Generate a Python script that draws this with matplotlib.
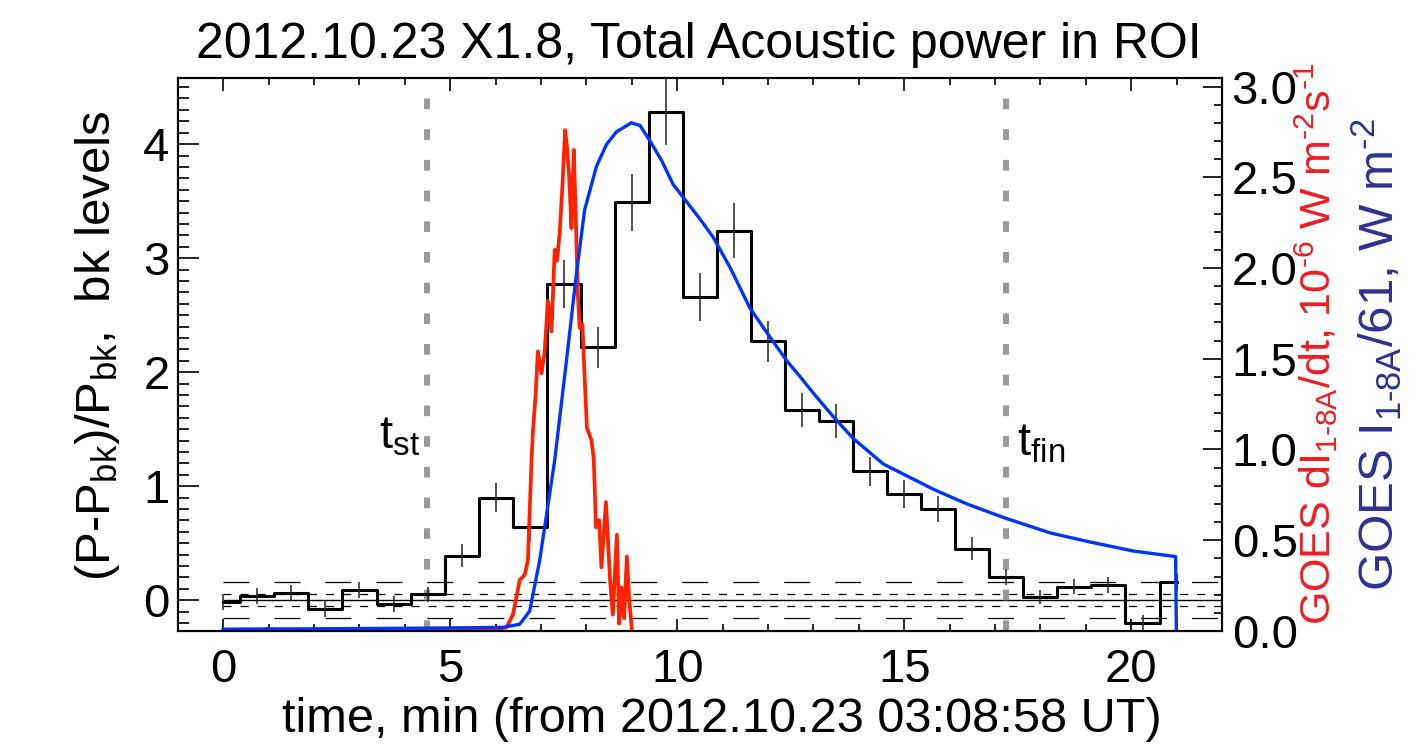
import numpy as np
import matplotlib.pyplot as plt
from matplotlib.ticker import MultipleLocator, FormatStrFormatter

plt.rcParams['font.family'] = 'Liberation Sans'
plt.rcParams['mathtext.fontset'] = 'custom'
plt.rcParams['mathtext.rm'] = 'Liberation Sans'
plt.rcParams['mathtext.it'] = 'Liberation Sans'
plt.rcParams['lines.scale_dashes'] = False

# acoustic power in ROI, bins of 0.75 min
t_pow = np.arange(29) * 0.75
p_pow = [-0.015, 0.04, 0.065, -0.08, 0.09, -0.03, 0.05, 0.39, 0.90, 0.64,
         2.77, 2.22, 3.49, 4.28, 2.66, 3.24, 2.27, 1.67, 1.57, 1.13,
         0.93, 0.80, 0.45, 0.20, 0.03, 0.12, 0.13, -0.20, 0.16]
e_pow = [0.07, 0.07, 0.07, 0.07, 0.07, 0.07, 0.07, 0.10, 0.13, 0.12,
         0.21, 0.18, 0.25, 0.29, 0.21, 0.24, 0.18, 0.15, 0.15, 0.13,
         0.12, 0.11, 0.10, 0.07, 0.06, 0.07, 0.07, 0.07, 0.07]

# background levels
bk_1 = 0.055
bk_3 = 0.16

# start / end of the interval
t_st = 4.48
t_fin = 17.24

# GOES derivative (red), right axis units
red_t = [0.0, 0.5, 1.0, 1.5, 2.0, 2.5, 3.0, 3.5, 4.0, 4.5, 5.0, 5.5, 6.0,
         6.24, 6.38, 6.53, 6.64, 6.71, 6.79, 6.82, 6.88, 6.93, 7.01, 7.08,
         7.15, 7.23, 7.30, 7.35, 7.41, 7.47, 7.53, 7.57, 7.62, 7.67, 7.72,
         7.76, 7.81, 7.85, 7.91, 7.96, 8.01, 8.11, 8.16, 8.21, 8.28, 8.33,
         8.43, 8.52, 8.58, 8.67, 8.72, 8.77, 8.83, 8.89, 8.94, 9.02]
red_v = [0.005, 0.0, 0.01, 0.0, 0.008, -0.003, 0.006, 0.0, 0.01, -0.002,
         0.005, 0.0, 0.01,
         0.02, 0.09, 0.28, 0.31, 0.39, 0.94, 1.10, 1.30, 1.54, 1.42, 1.54,
         1.82, 1.65, 2.10, 2.04, 2.19, 2.45, 2.76, 2.67, 2.50, 2.22, 2.65,
         2.32, 1.86, 1.67, 1.69, 1.40, 1.12, 1.05, 0.95, 0.57, 0.61, 0.35,
         0.71, 0.28, 0.09, 0.53, 0.04, 0.24, 0.07, 0.41, 0.18, -0.05]

# GOES flux /61 (blue), right axis units
blue_t = [0.0, 2.0, 4.0, 5.5, 6.16, 6.53, 6.75, 6.97, 7.30, 7.56, 7.78,
          7.96, 8.22, 8.44, 8.66, 8.99, 9.18, 9.40, 9.66, 9.91, 10.13,
          10.5, 10.79, 11.17, 11.6, 12.04, 12.41, 12.71, 13.0, 13.44,
          13.88, 14.54, 15.65, 16.38, 17.19, 18.22, 19.1, 20.06, 20.98,
          21.0]
blue_v = [0.01, 0.012, 0.015, 0.018, 0.02, 0.037, 0.11, 0.39, 0.94, 1.49,
          1.97, 2.32, 2.56, 2.68, 2.75, 2.80, 2.785, 2.70, 2.59, 2.46,
          2.39, 2.27, 2.17, 2.00, 1.78, 1.62, 1.49, 1.40, 1.31, 1.18,
          1.06, 0.92, 0.78, 0.70, 0.625, 0.54, 0.49, 0.44, 0.41, -0.1]

fig = plt.figure(figsize=(14.28, 7.44), dpi=100)
ax = fig.add_axes([0.1246, 0.1519, 0.7311, 0.7433])
ax2 = ax.twinx()

ax.set_xlim(-1, 22)
ax.set_ylim(-0.27, 4.58)
ax2.set_ylim(0, 3.047)

# background level lines
ax.hlines(0, 0, 22, color='k', lw=1.0)
for lev in (bk_1, -bk_1):
    ax.hlines(lev, 0, 22, color='k', lw=0.9, linestyles=(0, (5.8, 6.5)))
for lev in (bk_3, -bk_3):
    ax.hlines(lev, 0, 22, color='k', lw=0.9, linestyles=(0, (18.7, 18)))

# t_st / t_fin markers
for tv in (t_st, t_fin):
    ax.axvline(tv, color='#999999', lw=4.3, dashes=(7.7, 14.4))
ax.text(3.42, 1.33, r'$\mathregular{t_{st}}$', fontsize=34, va='baseline')
ax.text(17.49, 1.27, r'$\mathregular{t_{fin}}$', fontsize=34, va='baseline')

# acoustic power histogram
ax.plot(t_pow, p_pow, drawstyle='steps-mid', color='k', lw=2.2, zorder=3)
lo = np.array(p_pow) - np.array(e_pow)
hi = np.array(p_pow) + np.array(e_pow)
ax.vlines(t_pow, lo, hi, color='#222222', lw=1.1, zorder=3)

# GOES curves
ax2.plot(red_t, red_v, color='#ff2200', lw=2.7)
ax2.plot(blue_t, blue_v, color='#0033ff', lw=2.4)

# ticks
ax.xaxis.set_major_locator(MultipleLocator(5))
ax.xaxis.set_minor_locator(MultipleLocator(1))
ax.yaxis.set_major_locator(MultipleLocator(1))
ax.yaxis.set_minor_locator(MultipleLocator(0.1))
ax2.yaxis.set_major_locator(MultipleLocator(0.5))
ax2.yaxis.set_minor_locator(MultipleLocator(0.1))
ax2.yaxis.set_major_formatter(FormatStrFormatter('%.1f'))

ax.tick_params(which='both', direction='in', top=True, right=False, labelsize=34)
ax.tick_params(axis='y', which='major', length=15, width=1.2, pad=6)
ax.tick_params(axis='y', which='minor', length=8, width=1.2)
ax.tick_params(axis='x', which='major', length=9, width=1.2, pad=12)
ax.tick_params(axis='x', which='minor', length=5, width=1.2)
ax2.tick_params(axis='y', which='both', direction='in', labelsize=34)
ax2.tick_params(axis='y', which='major', length=14, width=1.2, pad=7)
ax2.tick_params(axis='y', which='minor', length=6, width=1.2)
for a in (ax, ax2):
    for s in a.spines.values():
        s.set_linewidth(1.5)

# labels
fig.text(0.4895, 0.9395, '2012.10.23 X1.8, Total Acoustic power in ROI',
         ha='center', va='center', fontsize=36)
fig.text(0.5053, 0.0165, 'time, min (from 2012.10.23 03:08:58 UT)',
         ha='center', va='baseline', fontsize=35)
fig.text(0.068, 0.536, r'(P-P$_{\mathregular{bk}}$)/P$_{\mathregular{bk}}$,  bk levels',
         rotation=90, ha='center', va='center', fontsize=35.5)
fig.text(0.9216, 0.538,
         r'GOES dI$_{\text{1-8A}}$/dt, 10$^{\text{-6}}$ W m$^{\text{-2}}$s$^{\text{-1}}$',
         rotation=90, ha='center', va='center', fontsize=31, color='#ee1c25')
fig.text(0.9645, 0.524, r'GOES I$_{\text{1-8A}}$/61, W m$^{\text{-2}}$',
         rotation=90, ha='center', va='center', fontsize=35.5, color='#2e3192')

fig.savefig('out.png', dpi=100)
